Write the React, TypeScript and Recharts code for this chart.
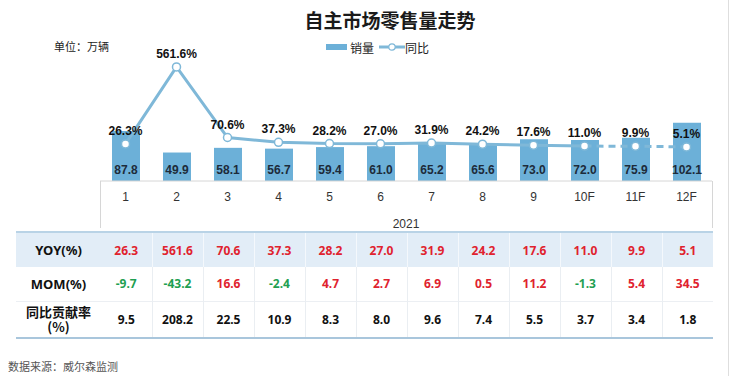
import React from 'react';
import { ComposedChart, Bar, Line, XAxis, YAxis, LabelList, Label } from 'recharts';

const months = ['1', '2', '3', '4', '5', '6', '7', '8', '9', '10F', '11F', '12F'];
const sales = [87.8, 49.9, 58.1, 56.7, 59.4, 61.0, 65.2, 65.6, 73.0, 72.0, 75.9, 102.1];
const yoy = [26.3, 561.6, 70.6, 37.3, 28.2, 27.0, 31.9, 24.2, 17.6, 11.0, 9.9, 5.1];
const mom = [-9.7, -43.2, 16.6, -2.4, 4.7, 2.7, 6.9, 0.5, 11.2, -1.3, 5.4, 34.5];
const contribution = [9.5, 208.2, 22.5, 10.9, 8.3, 8.0, 9.6, 7.4, 5.5, 3.7, 3.4, 1.8];
const yearLabel = '2021';
const lastActualIndex = 9;
const rowLabels = ['YOY(%)', 'MOM(%)', '同比贡献率\n(%)'];

const BAR = '#6cb0d8';
const LINE = '#7fb8d8';
const RED = '#e0222e';
const GREEN = '#1f9f52';
const LATIN = '"Liberation Sans", Arial, sans-serif';
const CJK = '"Noto Sans CJK SC", "Noto Sans", sans-serif';
const TABLE_FONT = '"Noto Sans", "Noto Sans CJK SC", sans-serif';

const data = months.map((m, i) => ({
  month: m,
  sales: sales[i],
  yoy: yoy[i],
  yoySolid: i <= lastActualIndex ? yoy[i] : null,
  yoyDash: i >= lastActualIndex ? yoy[i] : null,
}));

const cellBase: React.CSSProperties = {
  textAlign: 'center',
  fontFamily: TABLE_FONT,
  fontWeight: 700,
  fontSize: 12,
  padding: 0,
};

export default function App() {
  return (
    <div
      style={{
        position: 'absolute',
        left: 0,
        top: 0,
        width: 732,
        height: 376,
        background: '#fff',
        overflow: 'hidden',
        fontFamily: CJK,
      }}
    >
      {/* title */}
      <div
        style={{
          position: 'absolute',
          left: 290,
          width: 200,
          top: 7,
          textAlign: 'center',
          fontSize: 19,
          fontWeight: 700,
          color: '#1a1a1a',
          fontFamily: CJK,
          lineHeight: '26px',
        }}
      >
        自主市场零售量走势
      </div>
      {/* unit */}
      <div style={{ position: 'absolute', left: 54, top: 38, fontSize: 11, color: '#222', lineHeight: '16px' }}>
        单位：万辆
      </div>
      {/* legend */}
      <div style={{ position: 'absolute', left: 326, top: 38, height: 18, display: 'flex', alignItems: 'center', fontSize: 12, color: '#222' }}>
        <div style={{ width: 21, height: 6, background: BAR }} />
        <span style={{ marginLeft: 3 }}>销量</span>
        <svg width={26} height={10} style={{ marginLeft: 5 }}>
          <line x1={0} y1={5} x2={26} y2={5} stroke={LINE} strokeWidth={3} />
          <circle cx={13} cy={5} r={3.2} fill="#fff" stroke={LINE} strokeWidth={1.2} />
        </svg>
        <span>同比</span>
      </div>

      <div style={{ position: 'absolute', left: 0, top: 0 }}>
        <ComposedChart width={732} height={231} data={data} margin={{ top: 60, right: 20, bottom: 0, left: 100 }}>
          <XAxis
            dataKey="month"
            interval={0}
            tickLine={false}
            axisLine={{ stroke: '#d6d6d6' }}
            tick={{ fontSize: 12, fill: '#333', fontFamily: LATIN }}
            tickMargin={5}
            height={50}
          >
            <Label value={yearLabel} position="insideBottom" offset={3} fontSize={12} fill="#333" fontFamily={LATIN} />
          </XAxis>
          <YAxis yAxisId="bar" hide domain={[0, 212]} />
          <YAxis yAxisId="line" hide domain={[-232, 610]} />
          <Bar yAxisId="bar" dataKey="sales" fill={BAR} barSize={28} isAnimationActive={false}>
            <LabelList
              dataKey="sales"
              position="insideBottom"
              offset={7}
              formatter={(v: any) => Number(v).toFixed(1)}
              fill="#1d2b3a"
              fontSize={12}
              fontWeight={700}
              fontFamily={LATIN}
            />
          </Bar>
          <Line
            yAxisId="line"
            type="linear"
            dataKey="yoySolid"
            stroke={LINE}
            strokeWidth={3}
            dot={false}
            activeDot={false}
            isAnimationActive={false}
          />
          <Line
            yAxisId="line"
            type="linear"
            dataKey="yoyDash"
            stroke={LINE}
            strokeWidth={3}
            strokeDasharray="7 5"
            dot={false}
            activeDot={false}
            isAnimationActive={false}
          />
          <Line
            yAxisId="line"
            type="linear"
            dataKey="yoy"
            stroke="none"
            dot={{ r: 4, fill: '#fff', stroke: LINE, strokeWidth: 1.5 }}
            activeDot={false}
            isAnimationActive={false}
          >
            <LabelList
              dataKey="yoy"
              position="top"
              offset={9}
              formatter={(v: any) => `${Number(v).toFixed(1)}%`}
              fill="#111"
              fontSize={12}
              fontWeight={700}
              fontFamily={LATIN}
            />
          </Line>
        </ComposedChart>
      </div>

      {/* axis box side lines */}
      <div style={{ position: 'absolute', left: 100, top: 181, width: 1, height: 47, background: '#d6d6d6' }} />
      <div style={{ position: 'absolute', left: 712, top: 181, width: 1, height: 47, background: '#d6d6d6' }} />

      {/* table */}
      <table
        style={{
          position: 'absolute',
          left: 16,
          top: 231,
          width: 697,
          tableLayout: 'fixed',
          borderCollapse: 'collapse',
          borderTop: '2px solid #b9d3e6',
          borderBottom: '2px solid #a9c6dc',
        }}
      >
        <colgroup>
          <col style={{ width: 85 }} />
          {months.map((m) => (
            <col key={m} style={{ width: 51 }} />
          ))}
        </colgroup>
        <tbody>
          <tr style={{ height: 35, background: '#e2edf7' }}>
            <td style={{ ...cellBase, fontSize: 13, color: '#111' }}>{rowLabels[0]}</td>
            {yoy.map((v, i) => (
              <td key={i} style={{ ...cellBase, color: RED, borderLeft: i > 0 ? '1px solid #f4f8fc' : 'none' }}>
                {v.toFixed(1)}
              </td>
            ))}
          </tr>
          <tr style={{ height: 34 }}>
            <td style={{ ...cellBase, fontSize: 13, color: '#111' }}>{rowLabels[1]}</td>
            {mom.map((v, i) => (
              <td
                key={i}
                style={{ ...cellBase, color: v < 0 ? GREEN : RED, borderLeft: i > 0 ? '1px solid #eaeef2' : 'none' }}
              >
                {v.toFixed(1)}
              </td>
            ))}
          </tr>
          <tr style={{ height: 37, borderTop: '1px solid #eceff3' }}>
            <td style={{ ...cellBase, fontSize: 13, color: '#111', lineHeight: '15px', whiteSpace: 'pre-line', fontFamily: CJK }}>
              {rowLabels[2]}
            </td>
            {contribution.map((v, i) => (
              <td key={i} style={{ ...cellBase, color: '#111', borderLeft: i > 0 ? '1px solid #eaeef2' : 'none' }}>
                {v.toFixed(1)}
              </td>
            ))}
          </tr>
        </tbody>
      </table>

      {/* footer */}
      <div style={{ position: 'absolute', left: 8, top: 358, fontSize: 11, color: '#555', lineHeight: '16px' }}>
        数据来源：威尔森监测
      </div>

      {/* right border */}
      <div style={{ position: 'absolute', left: 728, top: 0, width: 1, height: 376, background: '#dedede' }} />
    </div>
  );
}
